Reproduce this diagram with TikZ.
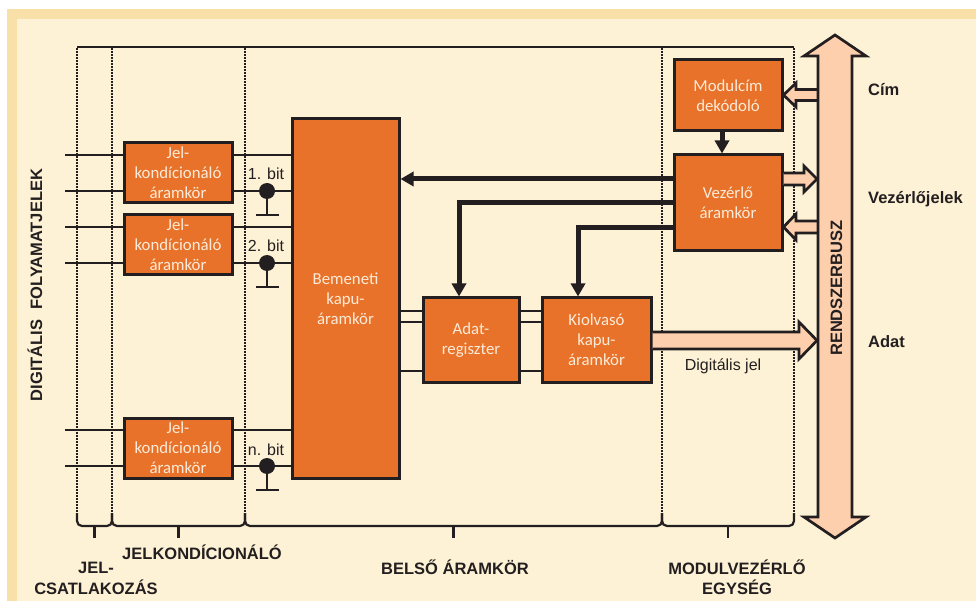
\documentclass[tikz,border=0pt]{standalone}
\usepackage{fontspec}
\setmainfont{Liberation Sans}
\newfontfamily\boxfont{Carlito}
\usetikzlibrary{arrows.meta,calc}
\definecolor{band}{HTML}{F9DFA8}
\definecolor{cream}{HTML}{FEF2D6}
\definecolor{boxorange}{HTML}{E8722A}
\definecolor{boxtext}{HTML}{FCEBD8}
\definecolor{salmon}{HTML}{FDCFAD}
\definecolor{ink}{HTML}{231F20}
\tikzset{
  orangebox/.style={draw=ink, line width=3pt, fill=boxorange, text=boxtext,
    font=\boxfont\fontsize{16.8}{20}\selectfont, align=center, inner sep=0pt},
  lab/.style={font=\bfseries\fontsize{16.5}{20}\selectfont, text=ink, inner sep=0pt, anchor=base},
  smalllab/.style={font=\fontsize{16}{19}\selectfont, text=ink, inner sep=0pt, anchor=base},
  frameline/.style={draw=ink, line width=2.2pt},
  divline/.style={draw=ink, line width=2.8pt, dash pattern=on 1.8pt off 1.2pt},
  sig/.style={draw=ink, line width=2.5pt},
  thickarrow/.style={draw=ink, line width=5pt, -{Triangle[length=13pt,width=14pt]}},
  fat/.style={draw=ink, fill=salmon, line width=2.7pt, line join=miter},
  dotn/.style={circle, fill=ink, minimum size=16pt, inner sep=0pt},
  groundline/.style={draw=ink, line width=2.7pt}
}
\begin{document}
\begin{tikzpicture}[x=1pt,y=-1pt]
\useasboundingbox (0,0) rectangle (976,601);
% background
\fill[white] (0,0) rectangle (976,601);
\fill[band] (7,9) rectangle (976,601);
\fill[cream] (17,19) rectangle (976,601);

% frame
\draw[frameline] (77,47) -- (794,47);
\foreach \x in {77,112,245,662,794} {
  \draw[divline] (\x,48) -- (\x,514);
}
\foreach \a/\b in {77/112,112/245,245/662,662/794} {
  \draw[frameline, rounded corners=5pt] (\a,513) -- (\a,526) -- (\b,526) -- (\b,513);
  \draw[frameline] ({(\a+\b)/2},526) -- ({(\a+\b)/2},538);
}

% boxes
\node[orangebox, minimum width=108pt, minimum height=60pt] (jel1) at (178,173) {Jel-\\kondícionáló\\áramkör};
\node[orangebox, minimum width=108pt, minimum height=60pt] (jel2) at (178,245) {Jel-\\kondícionáló\\áramkör};
\node[orangebox, minimum width=108pt, minimum height=60pt] (jel3) at (178,448) {Jel-\\kondícionáló\\áramkör};
\node[orangebox, minimum width=107pt, minimum height=359pt] (bem) at (345.5,298.5) {Bemeneti\\kapu-\\áramkör};
\node[orangebox, minimum width=96pt, minimum height=84pt] (adat) at (471,340) {Adat-\\regiszter};
\node[orangebox, minimum width=109pt, minimum height=84pt] (kio) at (596.5,340) {Kiolvasó\\kapu-\\áramkör};
\node[orangebox, minimum width=108pt, minimum height=71pt] (mod) at (728,95.5) {Modulcím\\dekódoló};
\node[orangebox, minimum width=108pt, minimum height=96pt] (vez) at (728,203) {Vezérlő\\áramkör};

% signal lines
\foreach \n/\ya/\yb in {1/155/191, 2/227/263, 3/430/466} {
  \coordinate (s\n a) at (65,\ya);
  \coordinate (s\n b) at (65,\yb);
  \draw[sig] (s\n a) -- (jel\n.west |- s\n a);
  \draw[sig] (jel\n.east |- s\n a) -- (bem.west |- s\n a);
  \draw[sig] (s\n b) -- (jel\n.west |- s\n b);
  \draw[sig] (jel\n.east |- s\n b) -- (bem.west |- s\n b);
  \node[dotn] (d\n) at (267,\yb) {};
  \coordinate (g\n) at (267,\yb+24);
  \draw[groundline] (d\n.center) -- (g\n);
  \draw[groundline] ([xshift=-11.5pt]g\n) -- ([xshift=11.5pt]g\n);
}
\node[smalllab] (b1) at (266,180) {1. bit};
\node[smalllab] (b2) at (266,252) {2. bit};
\node[smalllab] (b3) at (266,455) {n. bit};

% data lines between boxes
\foreach \y in {311,322,371} {
  \draw[sig] (bem.east |- 0,\y) -- (adat.west |- 0,\y);
  \draw[sig] (adat.east |- 0,\y) -- (kio.west |- 0,\y);
}

% control arrows
\draw[thickarrow] (vez.west |- 0,179) -- (bem.east |- 0,179);
\draw[thickarrow] (vez.west |- 0,203) -| (459,0 |- adat.north);
\draw[thickarrow] (vez.west |- 0,228) -| (578,0 |- kio.north);
\draw[thickarrow] (722,0 |- mod.south) -- (722,0 |- vez.north);

% fat arrows
\filldraw[fat] (818,89.5) -- (796,89.5) -- (796,83) -- (783.5,95) -- (796,107) -- (796,100.5) -- (818,100.5);
\filldraw[fat] (783.5,173) -- (804,173) -- (804,166) -- (817,179) -- (804,192) -- (804,185) -- (783.5,185);
\filldraw[fat] (818,221) -- (796,221) -- (796,214) -- (783.5,227) -- (796,240) -- (796,233) -- (818,233);
\filldraw[fat] (652.5,332) -- (799,332) -- (799,322) -- (817,340.5) -- (799,359) -- (799,349) -- (652.5,349);

% system bus
\filldraw[fat] (835,35) -- (866,56) -- (852,56) -- (852,517) -- (866,517) -- (835,538)
  -- (804,517) -- (818,517) -- (818,56) -- (804,56) -- cycle;
\node[lab, rotate=90] (bus) at (842,288) {RENDSZERBUSZ};

% labels
\node[lab, anchor=base west] (cim) at (868,96) {Cím};
\node[lab, anchor=base west] (vjel) at (868,204) {Vezérlőjelek};
\node[lab, anchor=base west] (adatl) at (868,347) {Adat};
\node[smalllab] (dj) at (723,370) {Digitális jel};
\node[lab, rotate=90] (dfj) at (42,285) {DIGITÁLIS\hspace{10pt}FOLYAMATJELEK};
\node[lab] (l1a) at (96,573) {JEL-};
\node[lab] (l1b) at (96,594) {CSATLAKOZÁS};
\node[lab] (l2) at (202,559) {JELKONDÍCIONÁLÓ};
\node[lab] (l3) at (455,574) {BELSŐ ÁRAMKÖR};
\node[lab] (l4a) at (737,574) {MODULVEZÉRLŐ};
\node[lab] (l4b) at (737,594) {EGYSÉG};
\end{tikzpicture}
\end{document}
